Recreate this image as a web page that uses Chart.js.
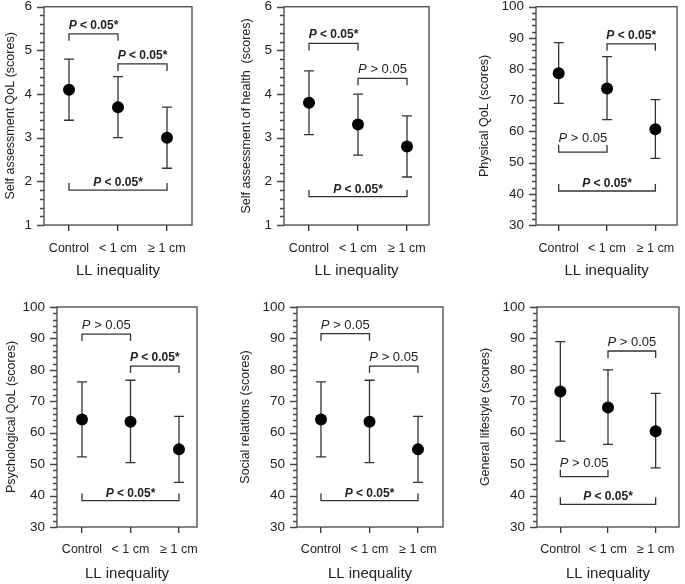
<!DOCTYPE html>
<html>
<head>
<meta charset="utf-8">
<script src="https://cdn.jsdelivr.net/npm/chart.js@4"></script>
<style>
html, body { margin: 0; padding: 0; background: #fff; }
#wrap { position: relative; width: 685px; height: 584px; }
#wrap canvas { position: absolute; left: 0; top: 0; }
</style>
</head>
<body>
<div id="wrap">
  <canvas id="p1" width="685" height="584"></canvas>
  <canvas id="p2" width="685" height="584"></canvas>
  <canvas id="p3" width="685" height="584"></canvas>
  <canvas id="p4" width="685" height="584"></canvas>
  <canvas id="p5" width="685" height="584"></canvas>
  <canvas id="p6" width="685" height="584"></canvas>
</div>
<script>
const groups = ['Control', '< 1 cm', '\u2265 1 cm'];

// Self assessment QoL
const qolMean = [4.1, 3.7, 3.0];
const qolLow = [3.4, 3.0, 2.3];
const qolHigh = [4.8, 4.4, 3.7];

// Self assessment of health
const healthMean = [3.8, 3.3, 2.8];
const healthLow = [3.07, 2.6, 2.1];
const healthHigh = [4.53, 4.0, 3.5];

// Physical QoL
const physMean = [78.7, 73.8, 60.7];
const physLow = [69.0, 63.8, 51.4];
const physHigh = [88.5, 84.0, 70.2];

// Psychological QoL
const psychMean = [64.2, 63.5, 54.7];
const psychLow = [52.3, 50.5, 44.2];
const psychHigh = [76.2, 76.7, 65.2];

// Social relations
const socialMean = [64.2, 63.5, 54.7];
const socialLow = [52.3, 50.5, 44.2];
const socialHigh = [76.2, 76.7, 65.2];

// General lifestyle
const lifeMean = [73.1, 68.0, 60.5];
const lifeLow = [57.3, 56.3, 48.8];
const lifeHigh = [89.0, 80.0, 72.5];

const yTicks1to6 = [1, 2, 3, 4, 5, 6];
const yTicks30to100 = [30, 40, 50, 60, 70, 80, 90, 100];

const SIG = 'P < 0.05*';
const NS = 'P > 0.05';

const lineColor = '#333';
const textColor = '#222';
const fontFamily = "'Liberation Sans', Arial, Helvetica, sans-serif";

// plugin: frame, y tick marks, error bars, brackets
const panelDecor = {
    id: 'panelDecor',
    beforeDatasetsDraw(chart, args, opts) {
        const ctx = chart.ctx;
        const xs = chart.scales.x, ys = chart.scales.y;
        ctx.save();
        ctx.strokeStyle = lineColor;
        ctx.lineWidth = 1.3;
        opts.low.forEach((lo, i) => {
            const x = xs.getPixelForValue(i);
            const y1 = ys.getPixelForValue(lo);
            const y2 = ys.getPixelForValue(opts.high[i]);
            ctx.beginPath();
            ctx.moveTo(x, y1); ctx.lineTo(x, y2);
            ctx.moveTo(x - 5, y1); ctx.lineTo(x + 5, y1);
            ctx.moveTo(x - 5, y2); ctx.lineTo(x + 5, y2);
            ctx.stroke();
        });
        ctx.restore();
    },
    afterDraw(chart, args, opts) {
        const ctx = chart.ctx;
        const a = chart.chartArea;
        const xs = chart.scales.x, ys = chart.scales.y;
        ctx.save();
        ctx.strokeStyle = '#444';
        ctx.lineWidth = 1.3;
        ctx.strokeRect(a.left, a.top, a.right - a.left, a.bottom - a.top);

        // y tick marks (major + minor)
        const n = Math.round((ys.max - ys.min) / opts.minor);
        const every = Math.round(opts.major / opts.minor);
        ctx.beginPath();
        for (let k = 0; k <= n; k++) {
            const y = Math.round(ys.getPixelForValue(ys.min + k * opts.minor)) + 0.5;
            const len = k % every === 0 ? 7 : 4;
            ctx.moveTo(a.left - len, y);
            ctx.lineTo(a.left, y);
        }
        ctx.stroke();

        // brackets
        ctx.strokeStyle = lineColor;
        opts.brackets.forEach(b => {
            const x1 = xs.getPixelForValue(b.from);
            const x2 = xs.getPixelForValue(b.to);
            const y = ys.getPixelForValue(b.y);
            const d = b.ticks === 'down' ? 7 : -7;
            ctx.beginPath();
            ctx.moveTo(x1, y + d); ctx.lineTo(x1, y); ctx.lineTo(x2, y); ctx.lineTo(x2, y + d);
            ctx.stroke();

            const bold = b.text === SIG;
            const size = bold ? 12 : 13;
            const rest = b.text.slice(1);
            const f1 = `italic ${bold ? 'bold ' : ''}${size}px ${fontFamily}`;
            const f2 = `${bold ? 'bold ' : ''}${size}px ${fontFamily}`;
            ctx.font = f1;
            const w1 = ctx.measureText('P').width;
            ctx.font = f2;
            const w2 = ctx.measureText(rest).width;
            let x = (x1 + x2) / 2 - (w1 + w2) / 2;
            const by = y - (b.gap || 5);
            ctx.fillStyle = textColor;
            ctx.textBaseline = 'alphabetic';
            ctx.textAlign = 'left';
            ctx.font = f1;
            ctx.fillText('P', x, by);
            ctx.font = f2;
            ctx.fillText(rest, x + w1, by);
        });
        ctx.restore();
    }
};

function makePanel(id, cfg) {
    const titleLh = 12.5 * 1.2;
    const xTitleLh = 15 * 1.2;
    const yWidth = cfg.L - (cfg.titleX - titleLh / 2);
    const xHeight = cfg.xTitleY - cfg.B + xTitleLh / 2;
    const sp = cfg.spacing;

    new Chart(document.getElementById(id), {
        type: 'scatter',
        data: {
            datasets: [{
                data: cfg.mean.map((v, i) => ({ x: i, y: v })),
                pointRadius: 6,
                pointBackgroundColor: '#000',
                pointBorderColor: '#000',
                pointBorderWidth: 0,
                showLine: false
            }]
        },
        options: {
            responsive: false,
            animation: false,
            events: [],
            layout: {
                padding: {
                    left: cfg.L - yWidth,
                    top: cfg.T,
                    right: 685 - cfg.R,
                    bottom: 584 - cfg.B - xHeight
                }
            },
            plugins: {
                legend: { display: false },
                tooltip: { enabled: false },
                panelDecor: {
                    low: cfg.low,
                    high: cfg.high,
                    brackets: cfg.brackets,
                    major: cfg.yTicks[1] - cfg.yTicks[0],
                    minor: (cfg.yTicks[1] - cfg.yTicks[0]) / 5
                }
            },
            scales: {
                x: {
                    type: 'linear',
                    min: -(cfg.first - cfg.L) / sp,
                    max: 2 + (cfg.R - cfg.first - 2 * sp) / sp,
                    afterBuildTicks: axis => { axis.ticks = groups.map((g, i) => ({ value: i })); },
                    afterFit: axis => { axis.height = xHeight; },
                    grid: { display: true, drawOnChartArea: false, drawTicks: true, tickLength: 6, color: lineColor, lineWidth: 1.3 },
                    border: { display: false },
                    ticks: {
                        callback: v => groups[v],
                        autoSkip: false,
                        maxRotation: 0,
                        padding: cfg.xPad,
                        color: textColor,
                        font: { family: fontFamily, size: 12.5 }
                    },
                    title: {
                        display: true,
                        text: 'LL inequality',
                        padding: 0,
                        color: textColor,
                        font: { family: fontFamily, size: 15 }
                    }
                },
                y: {
                    type: 'linear',
                    min: cfg.yTicks[0],
                    max: cfg.yTicks[cfg.yTicks.length - 1],
                    afterBuildTicks: axis => { axis.ticks = cfg.yTicks.map(v => ({ value: v })); },
                    afterFit: axis => { axis.width = yWidth; },
                    // invisible tick marks only to push the labels away from the axis
                    grid: { display: true, drawOnChartArea: false, drawTicks: true, tickLength: 12, color: 'rgba(0,0,0,0)' },
                    border: { display: false },
                    ticks: {
                        padding: 0,
                        color: textColor,
                        font: { family: fontFamily, size: 13.5, lineHeight: 1 }
                    },
                    title: {
                        display: true,
                        text: cfg.title,
                        padding: 0,
                        color: textColor,
                        font: { family: fontFamily, size: 12.5 }
                    }
                }
            }
        },
        plugins: [panelDecor]
    });
}

makePanel('p1', {
    L: 44, R: 192, T: 6, B: 225, first: 69, spacing: 49, titleX: 10.5, xTitleY: 271, xPad: 10,
    title: 'Self assessment QoL (scores)', yTicks: yTicks1to6,
    mean: qolMean, low: qolLow, high: qolHigh,
    brackets: [
        { from: 0, to: 1, y: 5.38, ticks: 'down', text: SIG },
        { from: 1, to: 2, y: 4.69, ticks: 'down', text: SIG },
        { from: 0, to: 2, y: 1.80, ticks: 'up', text: SIG, gap: 4 }
    ]
});

makePanel('p2', {
    L: 284, R: 429, T: 6, B: 225, first: 309, spacing: 49, titleX: 247, xTitleY: 271, xPad: 10,
    title: 'Self assessment of health  (scores)', yTicks: yTicks1to6,
    mean: healthMean, low: healthLow, high: healthHigh,
    brackets: [
        { from: 0, to: 1, y: 5.16, ticks: 'down', text: SIG },
        { from: 1, to: 2, y: 4.36, ticks: 'down', text: NS },
        { from: 0, to: 2, y: 1.65, ticks: 'up', text: SIG, gap: 4 }
    ]
});

makePanel('p3', {
    L: 536, R: 679, T: 6, B: 225, first: 559, spacing: 49, titleX: 485, xTitleY: 271, xPad: 10,
    title: 'Physical QoL (scores)', yTicks: yTicks30to100,
    mean: physMean, low: physLow, high: physHigh,
    brackets: [
        { from: 1, to: 2, y: 88.1, ticks: 'down', text: SIG },
        { from: 0, to: 1, y: 53.4, ticks: 'up', text: NS, gap: 10 },
        { from: 0, to: 2, y: 40.9, ticks: 'up', text: SIG, gap: 4 }
    ]
});

makePanel('p4', {
    L: 57, R: 197, T: 307, B: 527, first: 82, spacing: 48.5, titleX: 11.5, xTitleY: 574, xPad: 9,
    title: 'Psychological QoL (scores)', yTicks: yTicks30to100,
    mean: psychMean, low: psychLow, high: psychHigh,
    brackets: [
        { from: 0, to: 1, y: 91.4, ticks: 'down', text: NS },
        { from: 1, to: 2, y: 81.2, ticks: 'down', text: SIG },
        { from: 0, to: 2, y: 38.4, ticks: 'up', text: SIG, gap: 4 }
    ]
});

makePanel('p5', {
    L: 297, R: 443, T: 307, B: 527, first: 321, spacing: 48.5, titleX: 246, xTitleY: 574, xPad: 9,
    title: 'Social relations (scores)', yTicks: yTicks30to100,
    mean: socialMean, low: socialLow, high: socialHigh,
    brackets: [
        { from: 0, to: 1, y: 91.5, ticks: 'down', text: NS },
        { from: 1, to: 2, y: 81.2, ticks: 'down', text: NS },
        { from: 0, to: 2, y: 38.4, ticks: 'up', text: SIG, gap: 4 }
    ]
});

makePanel('p6', {
    L: 537, R: 683, T: 307, B: 527, first: 561, spacing: 49, titleX: 486, xTitleY: 574, xPad: 9,
    title: 'General lifestyle (scores)', yTicks: yTicks30to100,
    mean: lifeMean, low: lifeLow, high: lifeHigh,
    brackets: [
        { from: 1, to: 2, y: 86.0, ticks: 'down', text: NS },
        { from: 0, to: 1, y: 46.0, ticks: 'up', text: NS, gap: 10 },
        { from: 0, to: 2, y: 37.2, ticks: 'up', text: SIG, gap: 4 }
    ]
});
</script>
</body>
</html>
